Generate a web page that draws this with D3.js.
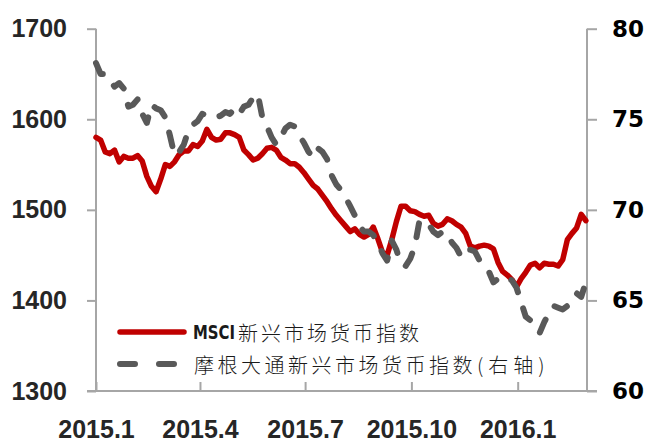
<!DOCTYPE html>
<html>
<head>
<meta charset="utf-8">
<script src="https://cdn.jsdelivr.net/npm/d3@7"></script>
<style>
  html, body { margin: 0; padding: 0; background: #fff; }
  svg { display: block; }
</style>
</head>
<body>
<svg id="chart" width="645" height="440"></svg>
<script>
// Sampling dates: every 4 calendar days from 2015-01-01
const startDate = new Date(2015, 0, 1);
const endDate = new Date(2016, 2, 1);
const dates = d3.timeDay.range(startDate, endDate, 4);

// MSCI Emerging Markets Currency Index (left axis)
const msciValues = [
  1580, 1577, 1564, 1562, 1566, 1553, 1559, 1557, 1557, 1560,
  1554, 1537, 1526, 1520, 1534, 1550, 1548, 1553, 1561, 1565,
  1565, 1572, 1570, 1576, 1589, 1580, 1577, 1578, 1585, 1585,
  1583, 1580, 1566, 1561, 1555, 1557, 1562, 1568, 1569, 1566,
  1558, 1555, 1551, 1551, 1547, 1541, 1534, 1527, 1523, 1516,
  1509, 1501, 1494, 1488, 1482, 1476, 1479, 1473, 1470, 1473,
  1481, 1468, 1453, 1450, 1467, 1487, 1504, 1504, 1499, 1498,
  1495, 1493, 1494, 1485, 1482, 1484, 1490, 1488, 1484, 1481,
  1474, 1460, 1458, 1460, 1461, 1460, 1457, 1442, 1432, 1428,
  1423, 1415, 1424, 1431, 1439, 1441, 1436, 1441, 1440, 1440,
  1438, 1445, 1467, 1474, 1480, 1495, 1488
];

// J.P. Morgan Emerging Markets Currency Index (right axis)
const jpmValues = [
  78.1, 77.5, 77.5, 77.2, 76.8, 77.0, 76.7, 75.7, 75.8, 76.1,
  75.3, 74.8, 75.8, 75.6, 75.5, 75.1, 74.1, 73.0, 73.2, 73.6,
  74.4, 74.7, 74.9, 75.3, 75.2, 75.1, 75.1, 75.2, 75.4, 75.3,
  75.6, 75.3, 75.7, 75.8, 76.2, 76.4, 75.1, 74.6, 74.0, 73.6,
  74.0, 74.5, 74.7, 74.6, 74.1, 73.7, 73.2, 72.9, 73.4, 73.2,
  72.8, 71.9, 71.4, 71.1, 70.7, 70.2, 69.7, 69.1, 68.8, 68.8,
  68.6, 68.2, 67.6, 67.2, 68.3, 67.8, 67.0, 66.9, 67.3, 68.0,
  69.4, 69.2, 69.2, 68.8, 68.6, 68.8, 68.7, 68.2, 67.9, 67.4,
  67.8, 67.8, 67.7, 67.2, 66.9, 66.6, 66.0, 66.2, 66.2, 66.3,
  66.1, 65.7, 64.9, 64.1, 63.9, 63.5, 63.2, 63.8, 64.3, 64.7,
  64.6, 64.5, 64.7, 65.1, 65.4, 65.2, 66.0
];

const leftTicks = [1300, 1400, 1500, 1600, 1700];
const rightTicks = [60, 65, 70, 75, 80];
const xTickDates = [new Date(2015, 0, 1), new Date(2015, 3, 1), new Date(2015, 6, 1), new Date(2015, 9, 1), new Date(2016, 0, 1)];
const xTickLabels = ["2015.1", "2015.4", "2015.7", "2015.10", "2016.1"];

const seriesNames = ["MSCI新兴市场货币指数", "摩根大通新兴市场货币指数(右轴)"];

const svg = d3.select("#chart");
const plotLeft = 96, plotRight = 587, plotTop = 28.7, plotBottom = 391;
const axisColor = "#a6a6a6";
const redColor = "#c00000", grayColor = "#595959";

const x = d3.scaleTime().domain([startDate, endDate]).range([plotLeft, plotRight]);
const yL = d3.scaleLinear().domain([1300, 1700]).range([plotBottom, plotTop]);
const yR = d3.scaleLinear().domain([60, 80]).range([plotBottom, plotTop]);

// Axes
const gLeft = svg.append("g").attr("transform", `translate(${plotLeft},0)`)
  .call(d3.axisLeft(yL).tickValues(leftTicks).tickFormat(d3.format("d"))
    .tickSizeInner(9).tickSizeOuter(0).tickPadding(20));
const gRight = svg.append("g").attr("transform", `translate(${plotRight},0)`)
  .call(d3.axisRight(yR).tickValues(rightTicks).tickFormat(d3.format("d"))
    .tickSizeInner(10).tickSizeOuter(0).tickPadding(15));
const gBottom = svg.append("g").attr("transform", `translate(0,${plotBottom})`)
  .call(d3.axisBottom(x).tickValues(xTickDates)
    .tickFormat((d, i) => xTickLabels[i]).tickSizeInner(-9).tickSizeOuter(0).tickPadding(29));

[gLeft, gRight, gBottom].forEach(g => {
  g.select(".domain").remove();
  g.selectAll(".tick line").attr("stroke", axisColor).attr("stroke-width", 2);
});
gLeft.selectAll("text").attr("font-family", "'Liberation Sans', Arial, sans-serif")
  .attr("font-size", 25).attr("font-weight", "bold").attr("fill", "#262626");
gBottom.selectAll("text").attr("font-family", "'Liberation Sans', Arial, sans-serif")
  .attr("font-size", 25).attr("font-weight", "bold").attr("fill", "#262626");
gRight.selectAll("text").attr("font-family", "'DejaVu Sans', sans-serif")
  .attr("font-size", 23).attr("font-weight", "bold").attr("fill", "#000");

// Axis lines
svg.append("line").attr("x1", plotLeft).attr("x2", plotLeft).attr("y1", plotTop).attr("y2", plotBottom)
  .attr("stroke", axisColor).attr("stroke-width", 2);
svg.append("line").attr("x1", plotRight).attr("x2", plotRight).attr("y1", plotTop).attr("y2", plotBottom)
  .attr("stroke", axisColor).attr("stroke-width", 2);
svg.append("line").attr("x1", plotLeft - 9).attr("x2", plotRight + 10).attr("y1", plotBottom).attr("y2", plotBottom)
  .attr("stroke", axisColor).attr("stroke-width", 2);

// Series lines
const lineL = d3.line().x((d, i) => x(dates[i])).y(d => yL(d));
const lineR = d3.line().x((d, i) => x(dates[i])).y(d => yR(d));

svg.append("path").datum(msciValues).attr("d", lineL)
  .attr("fill", "none").attr("stroke", redColor).attr("stroke-width", 5.5)
  .attr("stroke-linejoin", "round").attr("stroke-linecap", "round");

svg.append("path").datum(jpmValues).attr("d", lineR)
  .attr("fill", "none").attr("stroke", grayColor).attr("stroke-width", 6)
  .attr("stroke-dasharray", "14,17")
  .attr("stroke-linejoin", "round").attr("stroke-linecap", "round");

// Legend
const legend = svg.append("g");
legend.append("line").attr("x1", 120).attr("x2", 184).attr("y1", 332).attr("y2", 332)
  .attr("stroke", redColor).attr("stroke-width", 5.5).attr("stroke-linecap", "round");
legend.append("line").attr("x1", 120).attr("x2", 175).attr("y1", 364).attr("y2", 364)
  .attr("stroke", grayColor).attr("stroke-width", 6).attr("stroke-linecap", "round")
  .attr("stroke-dasharray", "15,24");

const cjkFont = "'Noto Sans CJK SC', sans-serif";
const t1 = legend.append("text").attr("x", 193).attr("y", 332).attr("dominant-baseline", "central")
  .attr("fill", "#1a1a1a").attr("font-family", cjkFont).attr("font-size", 20).attr("font-weight", 300);
t1.append("tspan").attr("font-family", "'DejaVu Sans Condensed', 'Liberation Sans Narrow', sans-serif")
  .attr("font-weight", "bold").attr("font-size", 19).attr("textLength", 42).attr("lengthAdjust", "spacingAndGlyphs")
  .text(seriesNames[0].slice(0, 4));
t1.append("tspan").attr("dx", 3).attr("letter-spacing", 3).text(seriesNames[0].slice(4));

const t2 = legend.append("text").attr("x", 194).attr("y", 364).attr("dominant-baseline", "central")
  .attr("fill", "#1a1a1a").attr("font-family", cjkFont).attr("font-size", 20).attr("font-weight", 300);
const cut = seriesNames[1].indexOf("(");
t2.append("tspan").attr("letter-spacing", 3.5).text(seriesNames[1].slice(0, cut));
t2.append("tspan").attr("dx", 1).attr("letter-spacing", 5).text(seriesNames[1].slice(cut));
</script>
</body>
</html>
